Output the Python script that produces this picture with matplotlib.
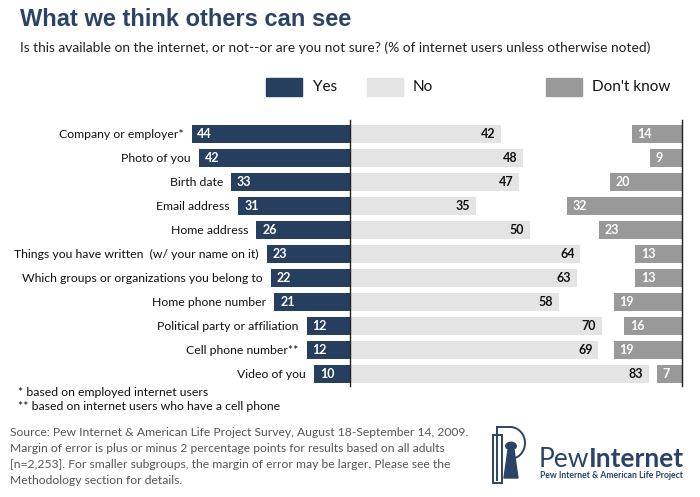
import matplotlib.pyplot as plt
from matplotlib.patches import Rectangle, Circle, Polygon, Arc

categories = ['Company or employer*', 'Photo of you', 'Birth date', 'Email address',
              'Home address', 'Things you have written  (w/ your name on it)',
              'Which groups or organizations you belong to', 'Home phone number',
              'Political party or affiliation', 'Cell phone number**', 'Video of you']
yes = [44, 42, 33, 31, 26, 23, 22, 21, 12, 12, 10]
no = [42, 48, 47, 35, 50, 64, 63, 58, 70, 69, 83]
dont_know = [14, 9, 20, 32, 23, 13, 13, 19, 16, 19, 7]
series_names = ['Yes', 'No', "Don't know"]

NAVY = '#263f5e'
LIGHT = '#e4e4e4'
GREY = '#999999'
TITLE = '#2b4366'
plt.rcParams['font.family'] = ['Lato', 'DejaVu Sans']

W, H = 700, 497
fig = plt.figure(figsize=(W / 100, H / 100), dpi=100)


def px(x, y):
    # pixel position -> figure fraction
    return x / W, 1 - y / H


# axes placed so that 1 unit = 3.6 px, zero line at x=350, rows 24 px apart starting at y=134
ax_l, ax_r, ax_t, ax_b = 170, 690, 118, 390
ax = fig.add_axes([ax_l / W, 1 - ax_b / H, (ax_r - ax_l) / W, (ax_b - ax_t) / H])
ax.set_xlim((ax_l - 350) / 3.6, (ax_r - 350) / 3.6)
ax.set_ylim(10 + (ax_b - 374) / 24, -(134 - ax_t) / 24)
ax.axis('off')

right_edge = (682 - 350) / 3.6
rows = range(len(categories))
ax.barh(rows, [-v for v in yes], height=0.75, color=NAVY)
ax.barh(rows, no, height=0.75, color=LIGHT)
ax.barh(rows, dont_know, left=[right_edge - v for v in dont_know], height=0.75, color=GREY)

for i in rows:
    ax.text(-yes[i] - 2.3, i, categories[i], ha='right', va='center', fontsize=8.8, color='#111111')
    ax.text(-yes[i] + 1.6, i, str(yes[i]), ha='left', va='center', fontsize=9, color='white',
            fontweight='bold')
    ax.text(no[i] - 1.6, i, str(no[i]), ha='right', va='center', fontsize=9, color='#111111',
            fontweight='bold')
    ax.text(right_edge - dont_know[i] + 1.6, i, str(dont_know[i]), ha='left', va='center',
            fontsize=9, color='white', fontweight='bold')

ax.plot([0, 0], [10.5, -0.58], color='#222222', lw=1)
ax.plot([right_edge, right_edge], [10.5, -0.58], color='#222222', lw=1)

# title and subtitle
fig.text(*px(20, 20), 'What we think others can see', fontsize=17, fontweight='bold',
         color=TITLE, va='center', family=['Liberation Sans', 'DejaVu Sans'])
fig.text(*px(20, 48), 'Is this available on the internet, or not--or are you not sure? '
         '(% of internet users unless otherwise noted)', fontsize=9.9, color='#222222', va='center')

# legend
legend_colors = [NAVY, LIGHT, GREY]
legend_box_x = [266, 367, 546]
legend_text_x = [313, 413, 592]
for name, c, bx, tx in zip(series_names, legend_colors, legend_box_x, legend_text_x):
    fig.patches.append(Rectangle(px(bx, 96), 36 / W, 18 / H, transform=fig.transFigure,
                                 color=c))
    fig.text(*px(tx, 87), name, fontsize=11, color='#111111', va='center')

# footnotes
fig.text(*px(18, 392), '* based on employed internet users', fontsize=8.8, color='#111111',
         va='center')
fig.text(*px(18, 406), '** based on internet users who have a cell phone', fontsize=8.8,
         color='#111111', va='center')
source = ['Source: Pew Internet & American Life Project Survey, August 18-September 14, 2009.',
          'Margin of error is plus or minus 2 percentage points for results based on all adults',
          '[n=2,253]. For smaller subgroups, the margin of error may be larger. Please see the',
          'Methodology section for details.']
for k, line in enumerate(source):
    fig.text(*px(10, 433 + 16 * k), line, fontsize=8.7, color='#555555', va='center')

# logo
lw = 1.4
fig.patches.append(Rectangle(px(493, 483), 9 / W, 48 / H, transform=fig.transFigure,
                             fill=False, ec=TITLE, lw=lw))
fig.lines.append(plt.Line2D([497 / W, 497 / W], [1 - 427 / H, 1 - 480 / H],
                            transform=fig.transFigure, color=TITLE, lw=lw))
fig.lines.append(plt.Line2D([497 / W, 510 / W], [1 - 427 / H, 1 - 427 / H],
                            transform=fig.transFigure, color=TITLE, lw=lw))
fig.patches.append(Arc(px(510, 443), 30 / W, 32 / H, theta1=-90, theta2=90,
                       transform=fig.transFigure, color=TITLE, lw=lw))
fig.patches.append(Circle(px(511, 446), 0.0075, transform=fig.transFigure, color=TITLE))
fig.patches.append(Polygon([px(508, 450), px(514, 450), px(518, 478), px(504, 478)],
                           closed=True, transform=fig.transFigure, color=TITLE))
fig.text(*px(539, 467), 'Pew', fontsize=19, color=TITLE, va='baseline')
fig.text(*px(589, 467), 'Internet', fontsize=19, color=TITLE, va='baseline', fontweight='bold')
fig.text(*px(540, 476), 'Pew Internet & American Life Project', fontsize=6.2, color=TITLE,
         va='center', fontweight='bold')

fig.savefig('out.png', dpi=100)
